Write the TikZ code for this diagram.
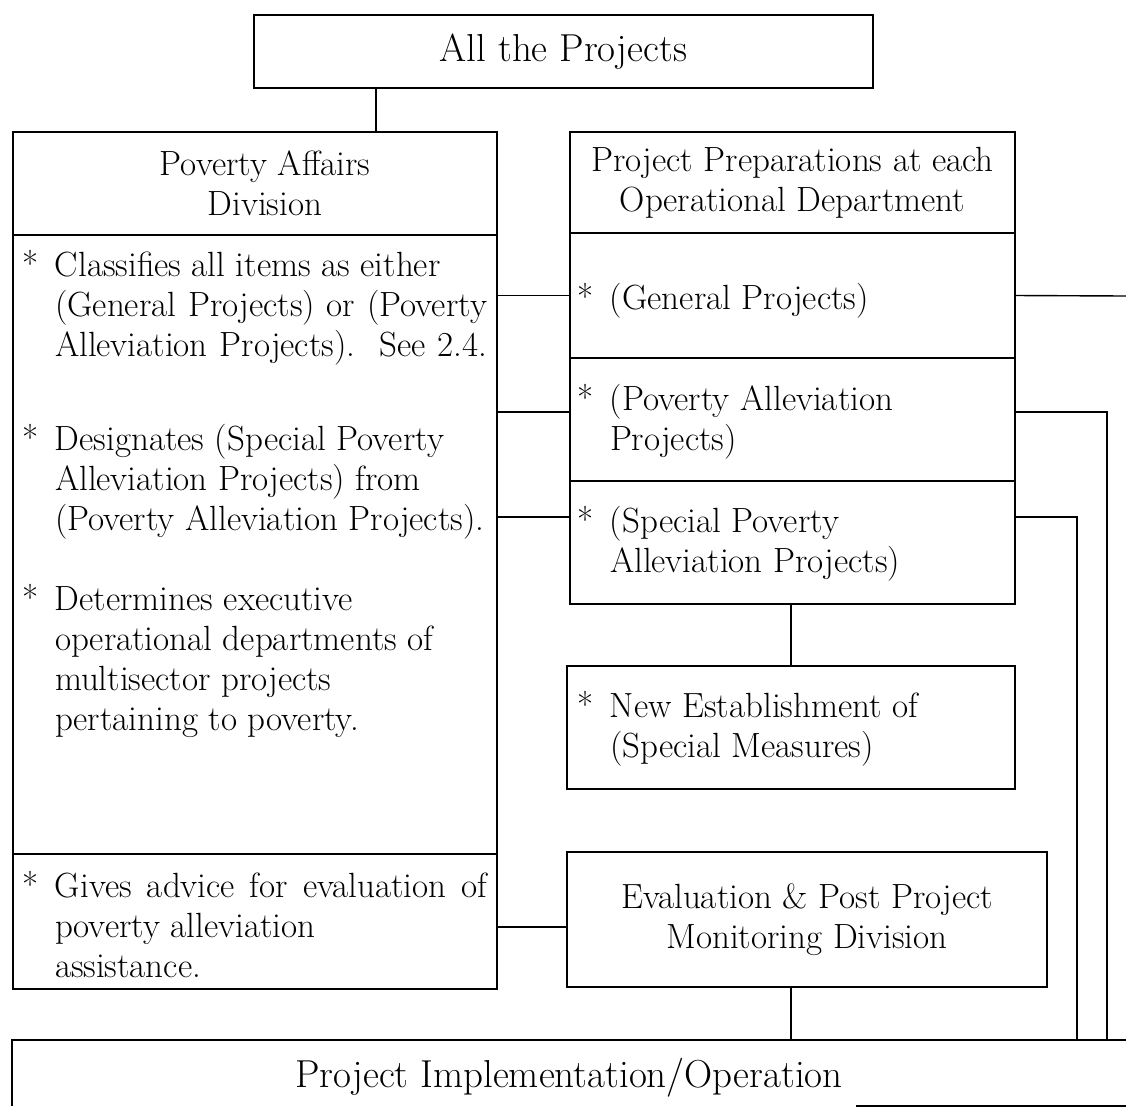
\documentclass[tikz,border=0pt]{standalone}
\usepackage{fontspec}
\newcommand{\bl}[1]{\begin{tabular}[t]{@{}l@{}l@{}}#1\end{tabular}}
\newcommand{\st}{\makebox[33pt][l]{*}}
\newcommand{\jl}[1]{\makebox[432pt][s]{#1}}
\begin{document}
\begin{tikzpicture}[x=1pt,y=-1pt,
  box/.style={draw, line width=1.4pt, inner sep=0pt, outer sep=0pt, anchor=north west},
  hidden/.style={inner sep=0pt, outer sep=0pt, anchor=north west},
  conn/.style={line width=1.4pt},
  body/.style={font=\fontsize{35}{40}\selectfont, inner sep=0pt, outer sep=0pt},
  big/.style={font=\fontsize{39}{40}\selectfont},
  hdr/.style={body, align=center},
  bul/.style={body, anchor=base west}]
\useasboundingbox (0,0) rectangle (1126,1109);
% boxes
\node[box, big, minimum width=619pt, minimum height=73pt] (top) at (254,15) {All the Projects};
\node[box, minimum width=484pt, minimum height=103pt] (lhead) at (13,132) {};
\node[box, minimum width=484pt, minimum height=619pt] (lbody) at (13,235) {};
\node[box, minimum width=484pt, minimum height=135pt] (lbot) at (13,854) {};
\node[box, minimum width=445pt, minimum height=101pt] (rhead) at (570,132) {};
\node[box, minimum width=445pt, minimum height=125pt] (gen) at (570,233) {};
\node[box, minimum width=445pt, minimum height=123pt] (pov) at (570,358) {};
\node[box, minimum width=445pt, minimum height=123pt] (spec) at (570,481) {};
\node[box, minimum width=448pt, minimum height=123pt] (new) at (567,666) {};
\node[box, minimum width=480pt, minimum height=135pt] (eval) at (567,852) {};
\node[hidden, minimum width=1114pt, minimum height=66pt] (impl) at (12,1040) {};
\node[big] at ([yshift=-5pt]impl.center) {Project Implementation/Operation};
\coordinate (genout) at (1126,296);
\coordinate (povx) at (1107,412);
\coordinate (specx) at (1077,517);
% header texts
\node[hdr] at ([xshift=10pt]lhead.center) {Poverty Affairs\\Division};
\node[hdr] at (rhead.center) {Project Preparations at each\\Operational Department};
\node[hdr] at (eval.center) {Evaluation \& Post Project\\Monitoring Division};
% left bullets
\node[bul] at (22,276) {\bl{\st & Classifies all items as either\\ & \jl{(General Projects) or (Poverty}\\ & \jl{Alleviation Projects).\ \ See 2.4.}}};
\node[bul] at (22,450) {\bl{\st & Designates (Special Poverty\\ & Alleviation Projects) from\\ & (Poverty Alleviation Projects).}};
\node[bul] at (22,610) {\bl{\st & Determines executive\\ & operational departments of\\ & multisector projects\\ & pertaining to poverty.}};
\node[bul] at (22,897) {\bl{\st & \jl{Gives advice for evaluation of}\\ & poverty alleviation\\ & assistance.}};
% right bullets
\node[bul] at (577,309) {\bl{\st & (General Projects)}};
\node[bul] at (577,410) {\bl{\st & (Poverty Alleviation\\ & Projects)}};
\node[bul] at (577,532) {\bl{\st & (Special Poverty\\ & Alleviation Projects)}};
\node[bul] at (577,717) {\bl{\st & New Establishment of\\ & (Special Measures)}};
% connectors
\draw[conn] ([xshift=-187.5pt]top.south) -- ([xshift=-187.5pt]top.south |- lhead.north);
\draw[conn] (lbody.east |- gen.west) -- (gen.west);
\draw[conn] (gen.east) -- (genout);
\draw[conn] ([yshift=7.5pt]pov.west) -- ([yshift=7.5pt]pov.west -| lbody.east);
\draw[conn] ([yshift=25.5pt]spec.west) -- ([yshift=25.5pt]spec.west -| lbody.east);
\draw[conn] ([yshift=7.5pt]pov.east) -- (povx) -- (povx |- impl.north);
\draw[conn] ([yshift=25.5pt]spec.east) -- (specx) -- (specx |- impl.north);
\draw[conn] (spec.south -| new.north) -- (new.north);
\draw[conn] ([yshift=-5.5pt]lbot.east) -- ([yshift=-5.5pt]lbot.east -| eval.west);
\draw[conn] (eval.south -| new.south) -- (impl.north -| new.south);
% bottom box outline (right side outside the page)
\draw[conn] (impl.north east) -- (impl.north west) -- (impl.south west);
\draw[conn] (impl.south east) -- ([xshift=-270pt]impl.south east);
\end{tikzpicture}
\end{document}
